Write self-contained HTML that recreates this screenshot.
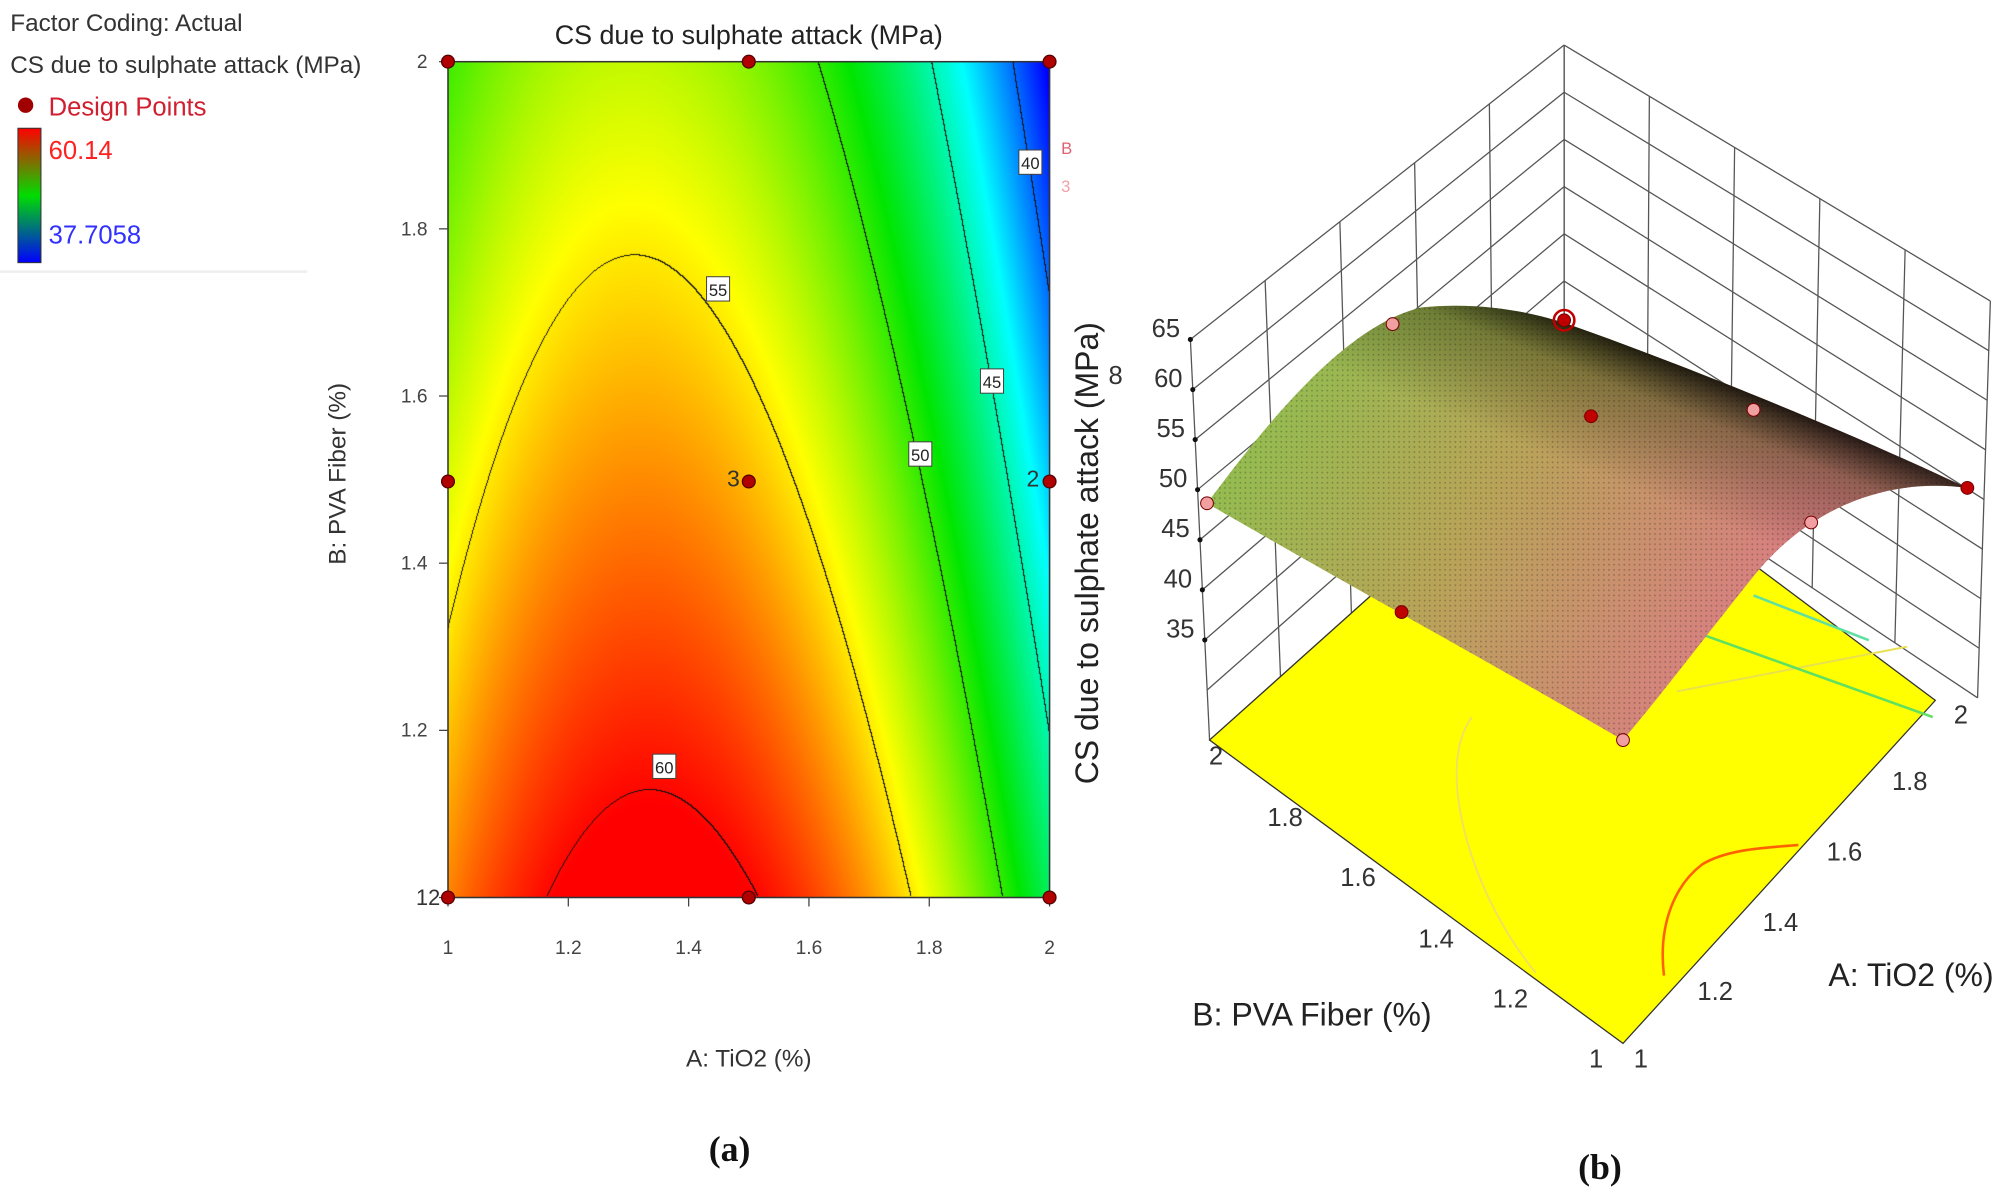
<!DOCTYPE html>
<html><head><meta charset="utf-8">
<style>
html,body{margin:0;padding:0;background:#fff;}
#wrap{position:relative;width:2007px;height:1196px;overflow:hidden;background:#fff;}
canvas{position:absolute;left:448px;top:61px;}
svg{position:absolute;left:0;top:0;}
text{font-family:"Liberation Sans",Arial,sans-serif;}
</style></head><body>
<div id="wrap">
<canvas id="c" width="602" height="836"></canvas>
<svg id="s" width="2007" height="1196" viewBox="0 0 1568 934">
<defs>
<linearGradient id="cb" x1="0" y1="0" x2="0" y2="1">
<stop offset="0" stop-color="#ff0000"/><stop offset="0.5" stop-color="#00dd00"/><stop offset="1" stop-color="#0000ff"/>
</linearGradient>
<linearGradient id="sg" gradientUnits="userSpaceOnUse" x1="980" y1="330" x2="1330" y2="540">
<stop offset="0" stop-color="#94bc50"/><stop offset="0.45" stop-color="#b8a458"/><stop offset="1" stop-color="#d88080"/>
</linearGradient>
<linearGradient id="dk" gradientUnits="userSpaceOnUse" x1="1235" y1="250" x2="1195" y2="350">
<stop offset="0" stop-color="#000" stop-opacity="0.9"/><stop offset="0.35" stop-color="#102000" stop-opacity="0.35"/><stop offset="1" stop-color="#000" stop-opacity="0"/>
</linearGradient>
<pattern id="mesh" width="4" height="4" patternUnits="userSpaceOnUse">
<rect width="4" height="4" fill="none"/><circle cx="1" cy="1" r="0.7" fill="#000" fill-opacity="0.25"/>
</pattern>
</defs>

<text x="8" y="24" font-size="19" fill="#333">Factor Coding: Actual</text>
<text x="8" y="57" font-size="19" fill="#333">CS due to sulphate attack (MPa)</text>
<circle cx="20" cy="82" r="6" fill="#a00000"/>
<text x="38" y="90" font-size="20" fill="#d02030">Design Points</text>
<rect x="14" y="100" width="18" height="105" fill="url(#cb)" stroke="#333" stroke-width="0.8"/>
<text x="38" y="124" font-size="20" fill="#ff2020">60.14</text>
<text x="38" y="190" font-size="20" fill="#3030ff">37.7058</text>
<line x1="0" y1="212" x2="240" y2="212" stroke="#eee" stroke-width="2"/>

<text x="585" y="34" font-size="21" fill="#222" text-anchor="middle">CS due to sulphate attack (MPa)</text>
<rect x="350" y="48" width="470" height="653" fill="none" stroke="#333" stroke-width="1.2"/>
<g font-size="15" fill="#444" text-anchor="middle" id="xt"></g>
<g font-size="15" fill="#444" text-anchor="end" id="yt"></g>
<text x="585" y="833" font-size="19" fill="#333" text-anchor="middle">A: TiO2 (%)</text>
<text transform="translate(270,370) rotate(-90)" font-size="19" fill="#333" text-anchor="middle">B: PVA Fiber (%)</text>
<g id="lbl" font-size="13" fill="#222" text-anchor="middle"></g>
<g id="dp"></g>
<text x="568" y="380" font-size="18" fill="#333">3</text>
<text x="802" y="380" font-size="18" fill="#333">2</text>
<text x="325" y="707" font-size="17" fill="#333">12</text>
<text x="829" y="120" font-size="13" fill="#e06070">B</text>
<text x="829" y="150" font-size="13" fill="#f0a0a8">3</text>

<g id="walls" stroke="#555" stroke-width="1" fill="none"></g>
<polygon points="945,578 1268,815 1512,547 1222,330" fill="#ffff00" stroke="#333" stroke-width="1"/>
<path d="M1300,762 C1295,720 1310,690 1330,675 C1350,663 1380,662 1405,660" fill="none" stroke="#ff6000" stroke-width="2"/>
<path d="M1150,560 C1120,600 1150,700 1200,760" fill="none" stroke="#f0e060" stroke-width="1.5"/>
<path d="M1310,540 L1490,505" fill="none" stroke="#e8e050" stroke-width="1.5"/>
<path d="M1320,492 L1510,560" fill="none" stroke="#60e060" stroke-width="2"/>
<path d="M1370,465 L1460,500" fill="none" stroke="#60e0a0" stroke-width="2"/>
<path d="M943,393 C990,330 1050,255 1110,240 C1160,235 1200,245 1222,252 C1330,290 1450,340 1537,381 C1470,372 1410,400 1370,450 C1330,500 1300,540 1268,578 C1160,515 1050,455 943,393 Z" fill="url(#sg)"/>
<path d="M943,393 C990,330 1050,255 1110,240 C1160,235 1200,245 1222,252 C1330,290 1450,340 1537,381 C1470,372 1410,400 1370,450 C1330,500 1300,540 1268,578 C1160,515 1050,455 943,393 Z" fill="url(#dk)"/>
<path d="M943,393 C990,330 1050,255 1110,240 C1160,235 1200,245 1222,252 C1330,290 1450,340 1537,381 C1470,372 1410,400 1370,450 C1330,500 1300,540 1268,578 C1160,515 1050,455 943,393 Z" fill="url(#mesh)"/>
<g id="dp3"></g>
<g id="zt" font-size="20" fill="#333" text-anchor="end"></g>
<text transform="translate(858,432) rotate(-90)" font-size="25" fill="#222" text-anchor="middle">CS due to sulphate attack (MPa)</text>
<text x="866" y="300" font-size="20" fill="#333">8</text>
<g font-size="20" fill="#333" text-anchor="middle">
<text x="950" y="597">2</text><text x="1004" y="645">1.8</text><text x="1061" y="692">1.6</text><text x="1122" y="740">1.4</text><text x="1180" y="787">1.2</text><text x="1247" y="834">1</text>
<text x="1282" y="834">1</text><text x="1340" y="781">1.2</text><text x="1391" y="727">1.4</text><text x="1441" y="672">1.6</text><text x="1492" y="617">1.8</text><text x="1532" y="565">2</text>
</g>
<text x="1025" y="801" font-size="25" fill="#222" text-anchor="middle">B: PVA Fiber (%)</text>
<text x="1493" y="770" font-size="25" fill="#222" text-anchor="middle">A: TiO2 (%)</text>
<text x="570" y="907" font-size="28" font-weight="bold" fill="#111" text-anchor="middle" style="font-family:'Liberation Serif',serif">(a)</text>
<text x="1250" y="921" font-size="28" font-weight="bold" fill="#111" text-anchor="middle" style="font-family:'Liberation Serif',serif">(b)</text>
</svg>
</div>
<script>
var NS="http://www.w3.org/2000/svg";
function el(p,t,a,txt){var e=document.createElementNS(NS,t);for(var k in a)e.setAttribute(k,a[k]);if(txt!==undefined)e.textContent=txt;document.getElementById(p).appendChild(e);return e;}
var cv=document.getElementById('c'),ctx=cv.getContext('2d'),W=602,H=836;
var img=ctx.createImageData(W,H),d=img.data;
function f(A,B){return 61-32.4*Math.pow(A-1.34,2)-(7.0+2.5*(A-1))*(B-1);}
function col(v){var t=(v-37.7)/22.44;if(t<0)t=0;if(t>1)t=1;var s=[[0,0,255],[0,255,255],[0,230,0],[255,255,0],[255,0,0]];var x=t*4,i=Math.min(3,Math.floor(x)),u=x-i;return [s[i][0]+(s[i+1][0]-s[i][0])*u,s[i][1]+(s[i+1][1]-s[i][1])*u,s[i][2]+(s[i+1][2]-s[i][2])*u];}
var L=new Int8Array(W*H);
for(var y=0;y<H;y++)for(var x=0;x<W;x++){var A=1+x/(W-1),B=2-y/(H-1),v=f(A,B),c=col(v),o=(y*W+x)*4;d[o]=c[0];d[o+1]=c[1];d[o+2]=c[2];d[o+3]=255;L[y*W+x]=Math.floor(v/5);}
for(var y=0;y<H-1;y++)for(var x=0;x<W-1;x++){var i=y*W+x;if(L[i]!=L[i+1]||L[i]!=L[i+W]){var o=i*4;d[o]=d[o+1]=d[o+2]=20;}}
ctx.putImageData(img,0,0);
var xs=['1','1.2','1.4','1.6','1.8','2'];
for(var k=0;k<6;k++){var X=350+94*k,Y=701-130.6*k;el('xt','text',{x:X,y:745},xs[k]);el('xt','line',{x1:X,y1:701,x2:X,y2:708,stroke:'#444'});
if(k>0)el('yt','text',{x:334,y:Y+5},xs[k]);el('yt','line',{x1:343,y1:Y,x2:350,y2:Y,stroke:'#444'});}
[[561,226,'55'],[719,355,'50'],[775,298,'45'],[805,127,'40'],[519,599,'60']].forEach(function(p){el('lbl','rect',{x:p[0]-9,y:p[1]-10,width:18,height:19,fill:'#fff',stroke:'#444','stroke-width':0.8});el('lbl','text',{x:p[0],y:p[1]+5},p[2]);});
[[350,48],[585,48],[820,48],[350,376],[585,376],[820,376],[350,701],[585,701],[820,701]].forEach(function(p){el('dp','circle',{cx:p[0],cy:p[1],r:5,fill:'#b00000',stroke:'#500',"stroke-width":1});});
function lerp(a,b,t){return [a[0]+(b[0]-a[0])*t,a[1]+(b[1]-a[1])*t];}
function ln(a,b){el('walls','line',{x1:a[0],y1:a[1],x2:b[0],y2:b[1]});}
var TL=[930,265],BL=[945,578],TB=[1222,35],BB=[1222,330],TR=[1555,235],BR=[1545,545];
for(var k=0;k<=8;k++){ln(lerp(BL,TL,k/8),lerp(BB,TB,k/8));ln(lerp(BB,TB,k/8),lerp(BR,TR,k/8));}
for(var j=0;j<=5;j++){ln(lerp(TL,TB,j/5),lerp(BL,BB,j/5));ln(lerp(TB,TR,j/5),lerp(BB,BR,j/5));}
var zs=['65','60','55','50','45','40','35'];
for(var k=0;k<7;k++){var p=lerp(TL,BL,k/8);el('zt','text',{x:p[0]-8,y:p[1]-2},zs[k]);el('zt','circle',{cx:p[0],cy:p[1],r:2,fill:'#111'});}
[[943,393,'#f0a0a0'],[1268,578,'#f0a0a0'],[1537,381,'#c00000'],[1095,478,'#c00000'],[1088,253,'#f0a0a0'],[1222,250,'#c00000'],[1243,325,'#c00000'],[1370,320,'#f0a0a0'],[1415,408,'#f0a0a0']].forEach(function(p){el('dp3','circle',{cx:p[0],cy:p[1],r:5,fill:p[2],stroke:'#700','stroke-width':0.8});});
el('dp3','circle',{cx:1222,cy:250,r:8,fill:'none',stroke:'#c00000','stroke-width':2});
</script>
</body></html>
